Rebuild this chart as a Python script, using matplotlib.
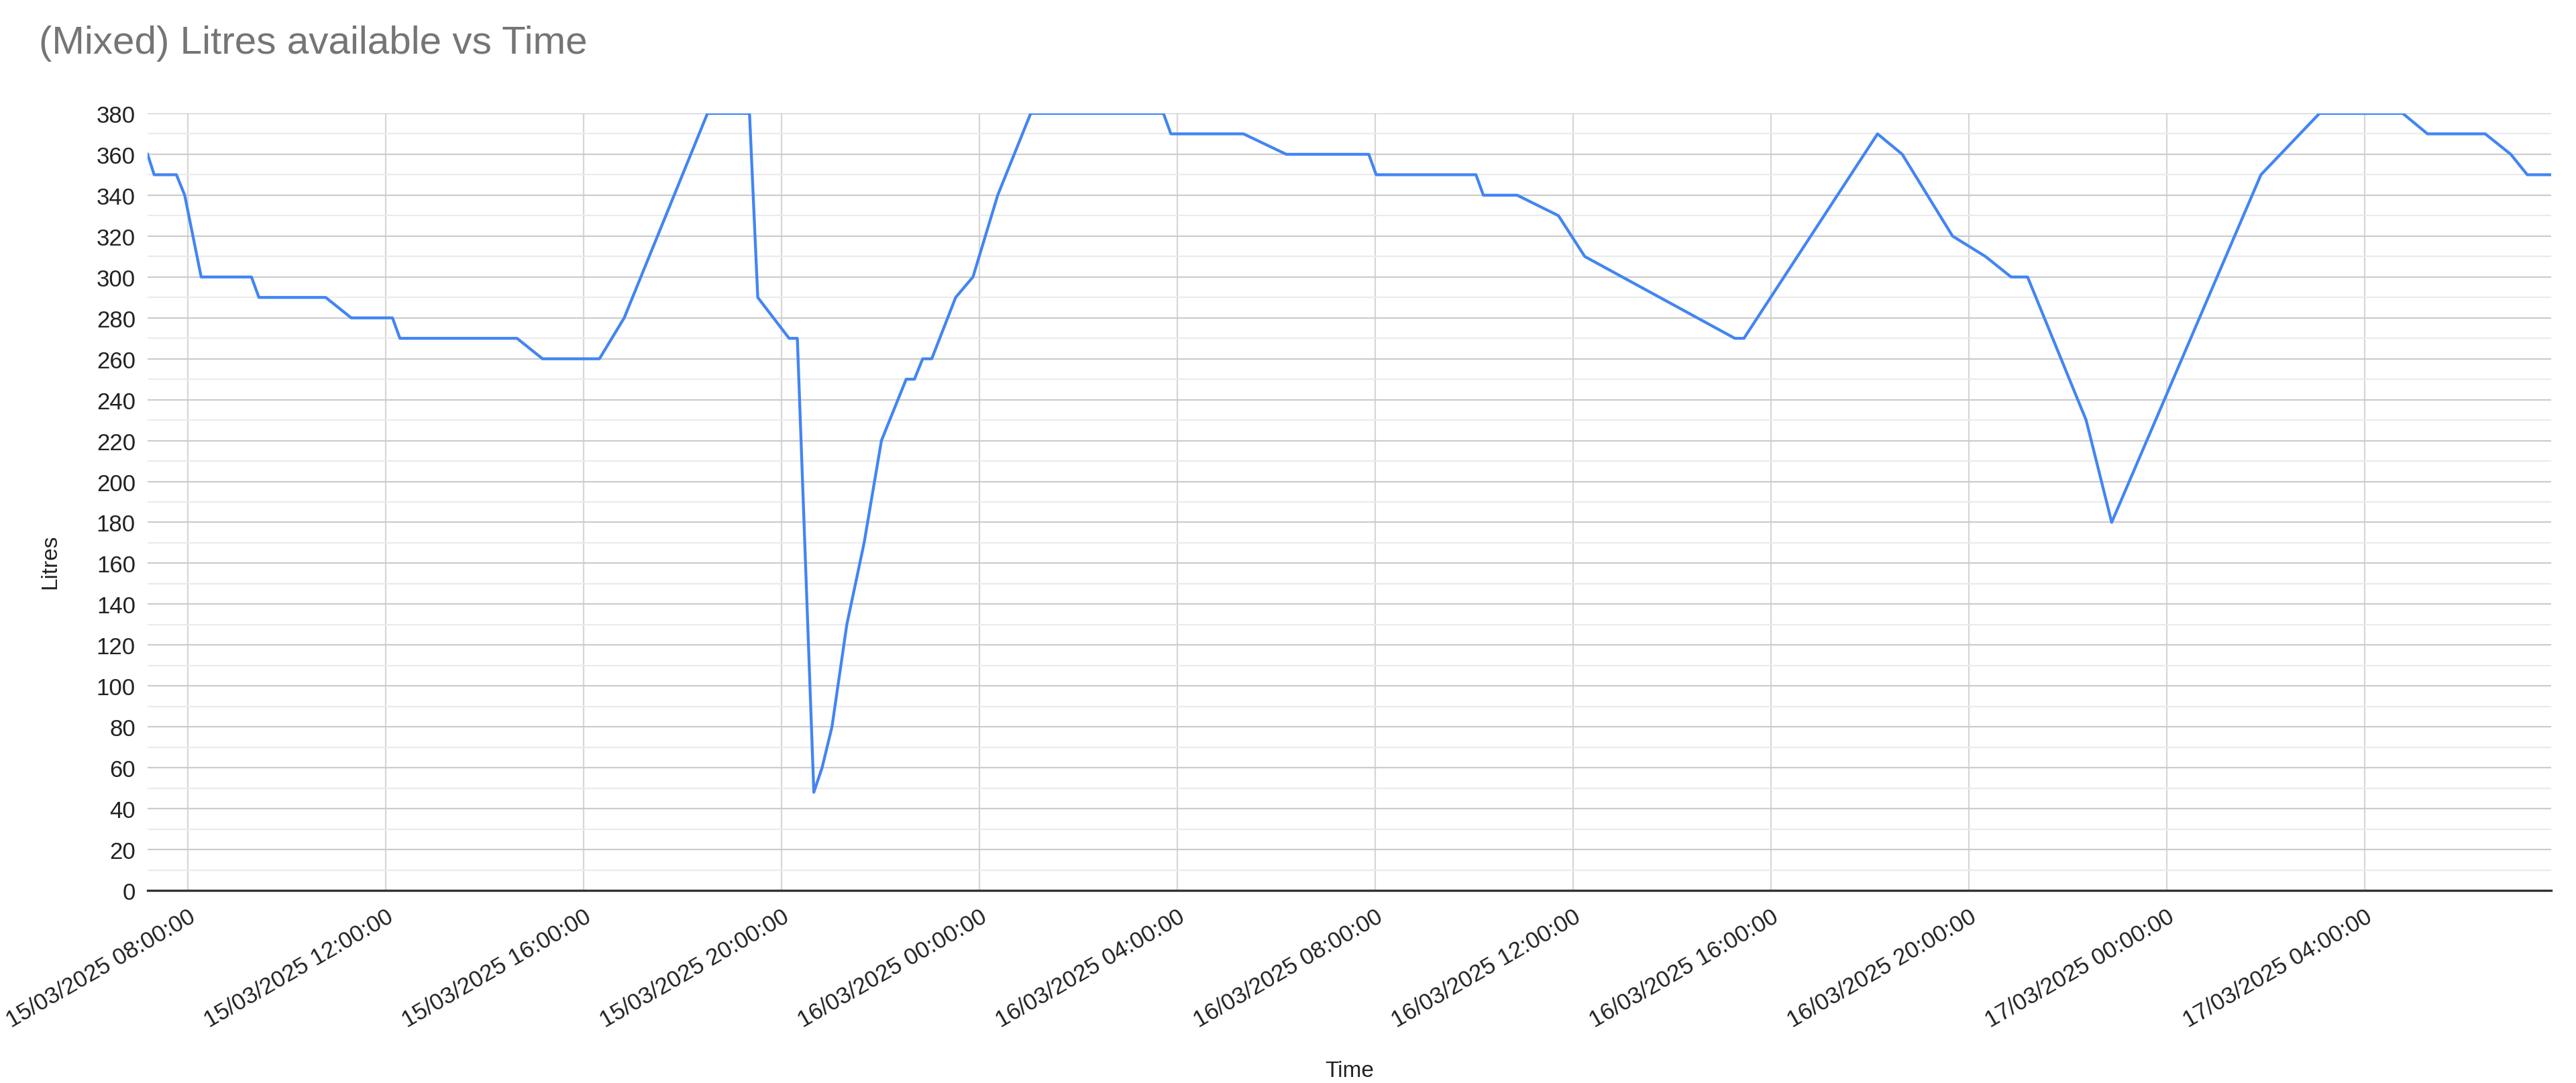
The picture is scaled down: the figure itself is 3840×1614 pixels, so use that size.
import pandas as pd
import matplotlib
matplotlib.use("Agg")
from matplotlib import pyplot as plt
import matplotlib.dates as mdates
from matplotlib.ticker import MultipleLocator

# readings taken off the chart
times = [
    "2025-03-15 07:11", "2025-03-15 07:19", "2025-03-15 07:46", "2025-03-15 07:56",
    "2025-03-15 08:16", "2025-03-15 09:17", "2025-03-15 09:26", "2025-03-15 10:47",
    "2025-03-15 11:18", "2025-03-15 12:08", "2025-03-15 12:17", "2025-03-15 14:39",
    "2025-03-15 15:10", "2025-03-15 16:19", "2025-03-15 16:49", "2025-03-15 18:30",
    "2025-03-15 19:21", "2025-03-15 19:31", "2025-03-15 20:09", "2025-03-15 20:19",
    "2025-03-15 20:39", "2025-03-15 20:49", "2025-03-15 21:01", "2025-03-15 21:19",
    "2025-03-15 21:40", "2025-03-15 22:01", "2025-03-15 22:31", "2025-03-15 22:41",
    "2025-03-15 22:51", "2025-03-15 23:02", "2025-03-15 23:31", "2025-03-15 23:52",
    "2025-03-16 00:22", "2025-03-16 01:02", "2025-03-16 03:43", "2025-03-16 03:52",
    "2025-03-16 05:20", "2025-03-16 06:12", "2025-03-16 07:52", "2025-03-16 08:01",
    "2025-03-16 10:02", "2025-03-16 10:11", "2025-03-16 10:52", "2025-03-16 11:42",
    "2025-03-16 12:14", "2025-03-16 15:16", "2025-03-16 15:27", "2025-03-16 18:09",
    "2025-03-16 18:39", "2025-03-16 19:40", "2025-03-16 20:20", "2025-03-16 20:51",
    "2025-03-16 21:11", "2025-03-16 22:22", "2025-03-16 22:53", "2025-03-17 01:54",
    "2025-03-17 03:05", "2025-03-17 04:46", "2025-03-17 05:16", "2025-03-17 06:26",
    "2025-03-17 06:57", "2025-03-17 07:17", "2025-03-17 07:46",
]
litres = [
    360, 350, 350, 340,
    300, 300, 290, 290,
    280, 280, 270, 270,
    260, 260, 280, 380,
    380, 290, 270, 270,
    48, 60, 80, 130,
    170, 220, 250, 250,
    260, 260, 290, 300,
    340, 380, 380, 370,
    370, 360, 360, 350,
    350, 340, 340, 330,
    310, 270, 270, 370,
    360, 320, 310, 300,
    300, 230, 180, 350,
    380, 380, 370, 370,
    360, 350, 350,
]

title = "(Mixed) Litres available vs Time"

plt.rcParams['font.family'] = ['Liberation Sans', 'DejaVu Sans']

x = pd.to_datetime(times)

fig = plt.figure(figsize=(38.4, 16.15), dpi=100)
ax = fig.add_axes([220 / 3840, 1 - 1328 / 1615, 3583 / 3840, 1158 / 1615])

ax.plot(x, litres, color="#4285F4", linewidth=3.1, solid_joinstyle="round")

ax.set_xlim(x[0], x[-1])
ax.set_ylim(0, 380)

ax.yaxis.set_major_locator(MultipleLocator(20))
ax.yaxis.set_minor_locator(MultipleLocator(10))
ax.xaxis.set_major_locator(mdates.HourLocator(byhour=[0, 4, 8, 12, 16, 20]))
ax.xaxis.set_major_formatter(mdates.DateFormatter("%d/%m/%Y %H:%M:%S"))

ax.grid(which="major", axis="y", color="#cccccc", linewidth=1.6)
ax.grid(which="minor", axis="y", color="#ebebeb", linewidth=1.6)
ax.grid(which="major", axis="x", color="#d6d6d6", linewidth=1.6)
ax.set_axisbelow(True)

for side in ["left", "right", "top"]:
    ax.spines[side].set_visible(False)
ax.spines["bottom"].set_color("#333333")
ax.spines["bottom"].set_linewidth(2.4)
ax.spines["bottom"].set_zorder(3)

ax.tick_params(axis="both", which="both", length=0, labelsize=25, colors="#222222")
ax.tick_params(axis="y", pad=13)
ax.tick_params(axis="x", pad=16)
for lbl in ax.get_xticklabels():
    lbl.set_rotation(30)
    lbl.set_ha("right")
    lbl.set_rotation_mode("anchor")

ax.set_ylabel("Litres", fontsize=24, color="#222222")
ax.yaxis.set_label_coords(-0.0363, 0.424)
ax.set_xlabel("Time", fontsize=24, color="#222222")
ax.xaxis.label.set_va("baseline")
ax.xaxis.set_label_coords(0.5, -0.2392)

fig.text(58 / 3840, 1 - 80 / 1615, title, fontsize=42, color="#757575",
         ha="left", va="baseline")

fig.savefig("out.png", dpi=100)
